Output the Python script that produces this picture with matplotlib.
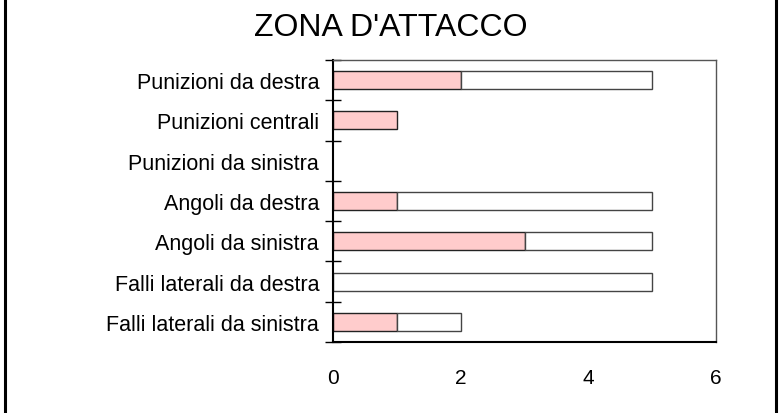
import matplotlib.pyplot as plt
from matplotlib.lines import Line2D

# Dati (dall'alto verso il basso)
categorie = [
    "Punizioni da destra",
    "Punizioni centrali",
    "Punizioni da sinistra",
    "Angoli da destra",
    "Angoli da sinistra",
    "Falli laterali da destra",
    "Falli laterali da sinistra",
]
riusciti = [2, 1, 0, 1, 3, 0, 1]
totali = [5, 1, 0, 5, 5, 5, 2]
x_ticks = [0, 2, 4, 6]

plt.rcParams['font.family'] = ['Liberation Sans', 'DejaVu Sans']

fig = plt.figure(figsize=(7.81, 4.14), dpi=100)
ax = fig.add_axes([333 / 781, 1 - 343 / 414, (716 - 333) / 781, (343 - 61) / 414])

n = len(categorie)
pos = list(range(n))[::-1]
resto = [t - r for t, r in zip(totali, riusciti)]

for y, r, rest in zip(pos, riusciti, resto):
    if r > 0:
        ax.barh(y, r, height=0.45, color='#ffcccc', edgecolor='#222222', linewidth=1)
    if rest > 0:
        ax.barh(y, rest, left=r, height=0.45, color='white', edgecolor='#444444', linewidth=1)

ax.set_xlim(0, 6)
ax.set_ylim(-0.5, n - 0.5)
ax.set_xticks(x_ticks)
ax.set_xticklabels([str(v) for v in x_ticks])
ax.set_yticks(pos)
ax.set_yticklabels(categorie)
ax.set_yticks([p - 0.5 for p in range(n + 1)], minor=True)

ax.tick_params(axis='y', which='major', length=0, pad=10, labelsize=15.5)
ax.tick_params(axis='y', which='minor', direction='inout', length=11.5, width=1, color='black')
ax.tick_params(axis='x', length=0, pad=19, labelsize=15)

for s in ['left', 'bottom']:
    ax.spines[s].set_color('black')
    ax.spines[s].set_linewidth(1.5)
for s in ['top', 'right']:
    ax.spines[s].set_color('#555555')
    ax.spines[s].set_linewidth(1)

fig.text(0.5, 1 - 36 / 414, "ZONA D'ATTACCO", ha='center', va='baseline', fontsize=23)

# cornice laterale
for xb in [5 / 781, 775.5 / 781]:
    fig.add_artist(Line2D([xb, xb], [0, 1], color='black', linewidth=2.2, transform=fig.transFigure))

fig.savefig('out.png', dpi=100)
